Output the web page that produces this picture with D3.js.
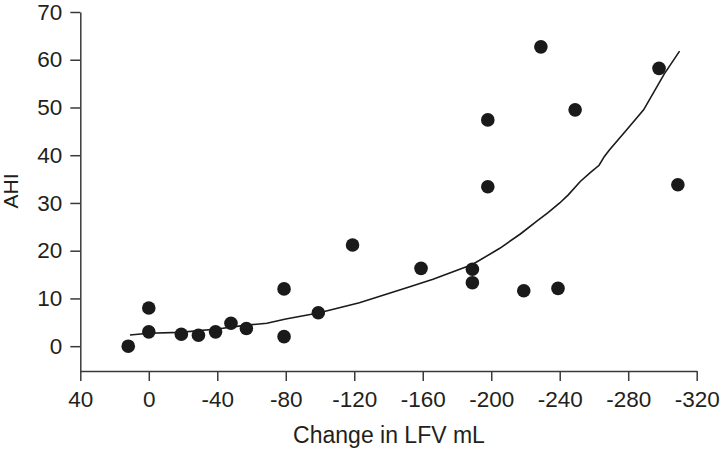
<!DOCTYPE html>
<html>
<head>
<meta charset="utf-8">
<script src="https://cdn.jsdelivr.net/npm/d3@7"></script>
<style>
  html, body { margin: 0; padding: 0; background: #fff; }
  svg { display: block; }
  text { font-family: "Liberation Sans", Arial, Helvetica, sans-serif; fill: #231f20; }
</style>
</head>
<body>
<svg id="chart" width="720" height="450"></svg>
<script>
// Scatter data: change in LFV (mL) vs AHI
const lfvChange = [12, 0, 0, -19, -29, -39, -48, -57, -79, -79, -99, -119, -159, -189, -189, -219, -239, -229, -298, -249, -198, -198, -309];
const ahiValues = [0, 8.0, 3.0, 2.5, 2.3, 3.0, 4.8, 3.7, 12.0, 2.0, 7.0, 21.2, 16.3, 16.1, 13.3, 11.6, 12.1, 62.7, 58.2, 49.5, 47.4, 33.4, 33.8];

// Fitted curve
const fitLfv = [11, 0, -18, -40, -57, -69, -80, -99, -123, -152, -166, -189, -205, -217, -227, -233, -240, -245, -252, -258, -263, -266, -269, -279, -289, -301, -310];
const fitAhi = [2.35, 2.7, 2.9, 3.6, 4.4, 4.8, 5.7, 6.95, 9.1, 12.4, 14.0, 17.1, 20.5, 23.5, 26.3, 27.9, 30.0, 31.7, 34.5, 36.4, 37.9, 39.7, 41.1, 45.3, 49.5, 57.0, 61.8];

const xTicks = [40, 0, -40, -80, -120, -160, -200, -240, -280, -320];
const yTicks = [0, 10, 20, 30, 40, 50, 60, 70];

const svg = d3.select("#chart");
const x = d3.scaleLinear().domain([40, -320]).range([80.3, 696.7]);
const y = d3.scaleLinear().domain([-5.2, 70]).range([371, 12]);

const axisColor = "#3a3a3a";
const fmt = d => String(d);

// X axis
const gx = svg.append("g")
  .attr("transform", `translate(0,${y(-5.2)})`)
  .call(d3.axisBottom(x).tickValues(xTicks).tickSize(10).tickSizeOuter(0).tickPadding(10).tickFormat(fmt));
gx.select(".domain").attr("stroke", axisColor).attr("stroke-width", 1.5);
gx.selectAll(".tick line").attr("stroke", axisColor).attr("stroke-width", 1.5);
gx.selectAll(".tick text").attr("font-size", 22.5).attr("fill", "#231f20")
  .attr("font-family", "'Liberation Sans', Arial, sans-serif");

// Y axis
const gy = svg.append("g")
  .attr("transform", `translate(${x(40)},0)`)
  .call(d3.axisLeft(y).tickValues(yTicks).tickSize(10).tickSizeOuter(0).tickPadding(8).tickFormat(fmt));
gy.select(".domain").attr("stroke", axisColor).attr("stroke-width", 1.5);
gy.selectAll(".tick line").attr("stroke", axisColor).attr("stroke-width", 1.5);
gy.selectAll(".tick text").attr("font-size", 22.5).attr("fill", "#231f20")
  .attr("font-family", "'Liberation Sans', Arial, sans-serif");

// Fitted curve
const fitData = fitLfv.map((v, i) => [v, fitAhi[i]]);
svg.append("path")
  .datum(fitData)
  .attr("fill", "none")
  .attr("stroke", "#1a1a1a")
  .attr("stroke-width", 1.6)
  .attr("d", d3.line().x(d => x(d[0])).y(d => y(d[1])));

// Points
const pts = lfvChange.map((v, i) => [v, ahiValues[i]]);
svg.append("g").selectAll("circle")
  .data(pts)
  .join("circle")
  .attr("cx", d => x(d[0]))
  .attr("cy", d => y(d[1]))
  .attr("r", 6.8)
  .attr("fill", "#1a1a1a");

// Axis titles
svg.append("text")
  .attr("x", 389)
  .attr("y", 443)
  .attr("text-anchor", "middle")
  .attr("font-size", 23)
  .text("Change in LFV mL");

svg.append("text")
  .attr("transform", "translate(18,191) rotate(-90)")
  .attr("text-anchor", "middle")
  .attr("font-size", 21)
  .text("AHI");
</script>
</body>
</html>
